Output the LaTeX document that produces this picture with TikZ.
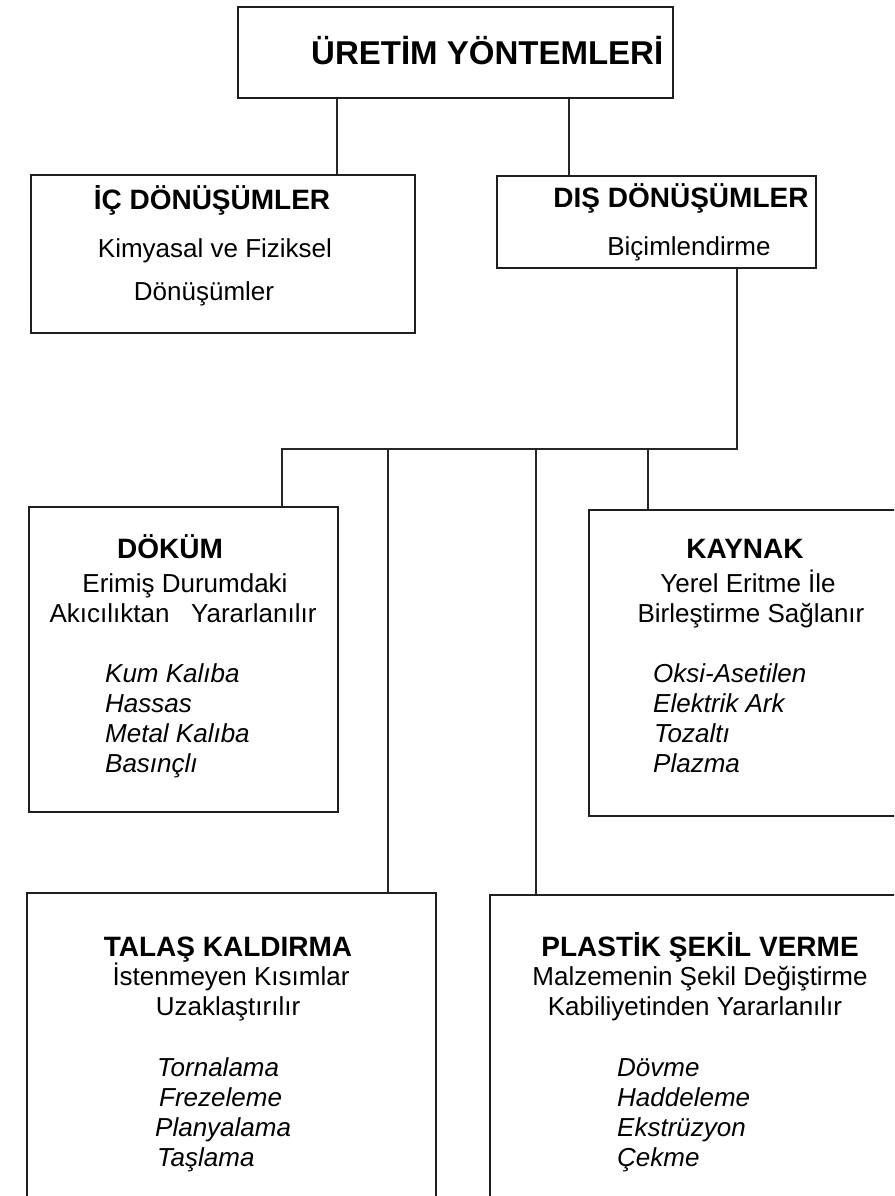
\documentclass[tikz,border=0pt]{standalone}
\usepackage{fontspec}
\setmainfont{Liberation Sans}
\begin{document}
\begin{tikzpicture}[x=1pt,y=-1pt,
  box/.style={draw=black!88,line width=2.5pt,rectangle,inner sep=0pt},
  conn/.style={draw=black!85,line width=2.5pt},
  ttl/.style={inner sep=0pt,anchor=base,font=\fontsize{28}{32}\selectfont\bfseries},
  sub/.style={inner sep=0pt,anchor=base,font=\fontsize{26}{30}\selectfont},
  itm/.style={inner sep=0pt,anchor=base west,font=\fontsize{26}{30}\selectfont\itshape}]
\clip (0,0) rectangle (894,1196);
\fill[white] (0,0) rectangle (894,1196);
% boxes
\node[box,minimum width=435pt,minimum height=91pt] (top) at (455.5,52.5) {};
\node[box,minimum width=384pt,minimum height=158pt] (ic) at (223,254) {};
\node[box,minimum width=319pt,minimum height=92pt] (dis) at (656.5,222) {};
\node[box,minimum width=309pt,minimum height=305pt] (dokum) at (183.5,659.5) {};
\node[box,minimum width=320pt,minimum height=306pt] (kaynak) at (749,663) {};
\node[box,minimum width=409pt,minimum height=330pt] (talas) at (231.5,1058) {};
\node[box,minimum width=410pt,minimum height=330pt] (plastik) at (695,1060) {};
% texts
\node[ttl,anchor=base west,font=\fontsize{33}{36}\selectfont\bfseries] (tt) at (311,65) {ÜRETİM YÖNTEMLERİ};
\node[ttl] (ict) at (212,209) {İÇ DÖNÜŞÜMLER};
\node[sub] (ic1) at (215,257) {Kimyasal ve Fiziksel};
\node[sub] (ic2) at (204,300) {Dönüşümler};
\node[ttl] (dist) at (681,207) {DIŞ DÖNÜŞÜMLER};
\node[sub] (dis1) at (689,255) {Biçimlendirme};
\node[ttl] (dkt) at (170,558) {DÖKÜM};
\node[sub] (dk1) at (185,592) {Erimiş Durumdaki};
\node[sub] (dk2) at (183,622) {Akıcılıktan\ \ \ Yararlanılır};
\node[itm] (dk3) at (105,682) {Kum Kalıba};
\node[itm] (dk4) at (105,712) {Hassas};
\node[itm] (dk5) at (105,742) {Metal Kalıba};
\node[itm] (dk6) at (105,772) {Basınçlı};
\node[ttl] (kyt) at (745,558) {KAYNAK};
\node[sub] (ky1) at (748,592) {Yerel Eritme İle};
\node[sub] (ky2) at (751,622) {Birleştirme Sağlanır};
\node[itm] (ky3) at (653,682) {Oksi-Asetilen};
\node[itm] (ky4) at (653,712) {Elektrik Ark};
\node[itm] (ky5) at (654,742) {Tozaltı};
\node[itm] (ky6) at (653,772) {Plazma};
\node[ttl] (tlt) at (228,956) {TALAŞ KALDIRMA};
\node[sub] (tl1) at (231,985) {İstenmeyen Kısımlar};
\node[sub] (tl2) at (228,1015) {Uzaklaştırılır};
\node[itm] (tl3) at (157,1076) {Tornalama};
\node[itm] (tl4) at (159,1106) {Frezeleme};
\node[itm] (tl5) at (155,1136) {Planyalama};
\node[itm] (tl6) at (157,1166) {Taşlama};
\node[ttl] (plt) at (700,956) {PLASTİK ŞEKİL VERME};
\node[sub] (pl1) at (700,985) {Malzemenin Şekil Değiştirme};
\node[sub] (pl2) at (695,1015) {Kabiliyetinden Yararlanılır};
\node[itm] (pl3) at (617,1076) {Dövme};
\node[itm] (pl4) at (617,1106) {Haddeleme};
\node[itm] (pl5) at (617,1136) {Ekstrüzyon};
\node[itm] (pl6) at (617,1166) {Çekme};
% connector coordinates
\coordinate (c1) at (337,0);
\coordinate (c2) at (569,0);
\coordinate (bR) at (737,449);
\coordinate (bL) at (282,449);
\coordinate (b2) at (388,449);
\coordinate (b3) at (536,449);
\coordinate (b4) at (648,449);
% connectors
\draw[conn] (top.south -| c1) -- (ic.north -| c1);
\draw[conn] (top.south -| c2) -- (dis.north -| c2);
\draw[conn,line join=miter] (dis.south -| bR) -- (bR) -- (bL) -- (dokum.north -| bL);
\draw[conn] (b2) -- (talas.north -| b2);
\draw[conn] (b3) -- (plastik.north -| b3);
\draw[conn] (b4) -- (kaynak.north -| b4);
\end{tikzpicture}
\end{document}
